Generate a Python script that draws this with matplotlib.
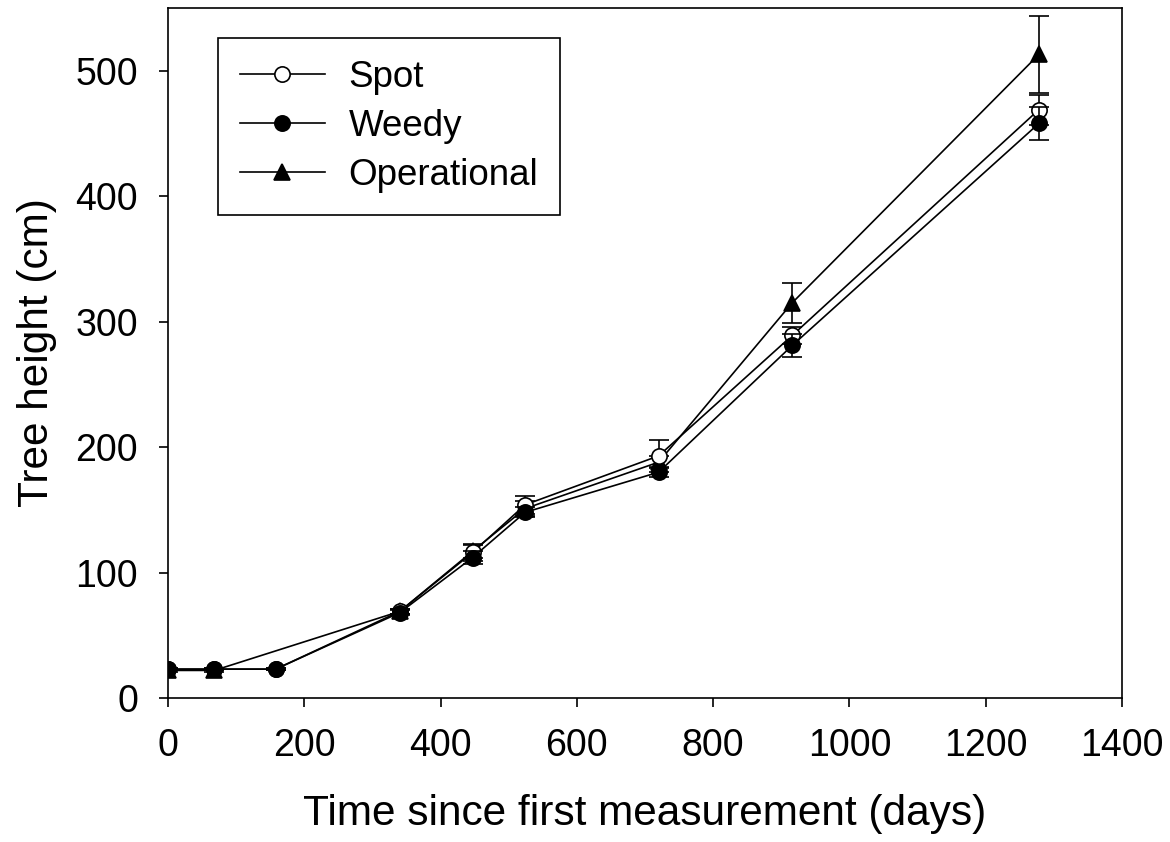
import matplotlib
matplotlib.use("Agg")
import matplotlib.pyplot as plt

plt.rcParams['font.family'] = ['Liberation Sans', 'DejaVu Sans']

# data
days = [0, 68, 158, 340, 447, 524, 720, 916, 1278]
spot = [23, 23, 23, 69, 116, 154, 193, 289, 469]
spot_err = [1, 1, 1, 2, 7, 7, 13, 7, 12]
weedy = [23, 23, 23, 68, 112, 148, 180, 281, 458]
weedy_err = [1, 1, 1, 2, 5, 4, 4, 9, 13]

days_op = [0, 68, 340, 447, 524, 720, 916, 1278]
oper = [22, 22, 69, 117, 151, 188, 315, 513]
oper_err = [1, 1, 2, 5, 6, 5, 16, 31]

fig = plt.figure(figsize=(11.7, 8.42), dpi=100)
ax = fig.add_axes([0.1436, 0.171, 0.8154, 0.8195])

common = dict(color='black', lw=1.2, ms=11, capsize=7, elinewidth=1.2,
              capthick=1.2, mew=1.2)
h_op = ax.errorbar(days_op, oper, yerr=oper_err, marker='^', mfc='black',
                   zorder=2, **common)
h_spot = ax.errorbar(days, spot, yerr=spot_err, marker='o', mfc='white',
                     zorder=3, **common)
h_weedy = ax.errorbar(days, weedy, yerr=weedy_err, marker='o', mfc='black',
                      zorder=4, **common)

ax.set_xlim(0, 1400)
ax.set_ylim(0, 550)
ax.set_xticks(range(0, 1401, 200))
ax.set_yticks(range(0, 501, 100))
ax.tick_params(direction='out', length=6.5, width=1.2, labelsize=27, pad=15)
for s in ax.spines.values():
    s.set_linewidth(1.2)

ax.set_xlabel('Time since first measurement (days)', fontsize=30.5)
ax.set_ylabel('Tree height (cm)', fontsize=30.5)
ax.xaxis.set_label_coords(0.5, -0.139)
ax.yaxis.set_label_coords(-0.116, 0.5)

leg = ax.legend([h_spot[0], h_weedy[0], h_op[0]], ['Spot', 'Weedy', 'Operational'],
                loc='upper left', bbox_to_anchor=(0.0524, 0.9565),
                borderaxespad=0, fontsize=26.5, fancybox=False,
                edgecolor='black', framealpha=1, handlelength=2.3,
                handletextpad=0.65, labelspacing=0.38, borderpad=0.6)
leg.get_frame().set_linewidth(1.2)

fig.savefig('out.png', dpi=100)
